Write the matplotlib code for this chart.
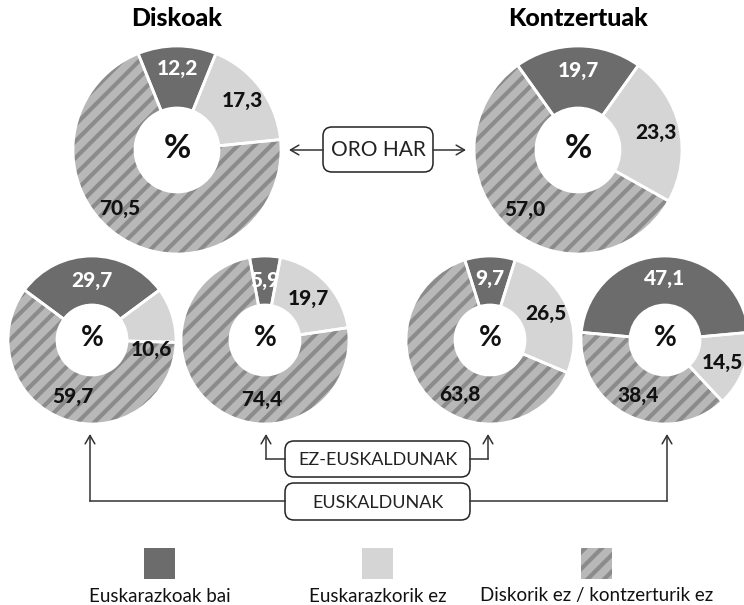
import numpy as np
import matplotlib
matplotlib.use('Agg')
from matplotlib import pyplot as plt
from matplotlib.patches import FancyBboxPatch, Rectangle

plt.rcParams['font.family'] = ['Lato', 'DejaVu Sans']
plt.rcParams['hatch.linewidth'] = 3.0

# data
titles = ['Diskoak', 'Kontzertuak']
categories = ['Euskarazkoak bai', 'Euskarazkorik ez', 'Diskorik ez / kontzerturik ez']
oro_har_diskoak = [12.2, 17.3, 70.5]
oro_har_kontzertuak = [19.7, 23.3, 57.0]
euskaldunak_diskoak = [29.7, 10.6, 59.7]
ez_euskaldunak_diskoak = [5.9, 19.7, 74.4]
ez_euskaldunak_kontzertuak = [9.7, 26.5, 63.8]
euskaldunak_kontzertuak = [47.1, 14.5, 38.4]
group_labels = ['ORO HAR', 'EZ-EUSKALDUNAK', 'EUSKALDUNAK']

DARK = '#6c6c6c'
LIGHT = '#d5d5d5'
HATCH_BG = '#b8b8b8'
HATCH_FG = '#8b8b8b'
LINE = '#333333'

W, H = 744, 605
fig = plt.figure(figsize=(W / 100, H / 100), dpi=100)
ax = fig.add_axes([0, 0, 1, 1])


def Y(y):
    # image pixel rows -> data y
    return H - y


def donut(vals, cx, cy, R, r, pct_size, lab_r, nudge):
    start = 90 + vals[0] * 3.6 / 2
    w, _ = ax.pie(vals, center=(cx, Y(cy)), radius=R, startangle=start,
                  counterclock=False, colors=[DARK, LIGHT, HATCH_BG],
                  wedgeprops=dict(width=R - r, linewidth=0, edgecolor=HATCH_FG))
    w[0].set_edgecolor(DARK)
    w[1].set_edgecolor(LIGHT)
    w[2].set_hatch('//')
    # white separators
    ax.pie(vals, center=(cx, Y(cy)), radius=R, startangle=start,
           counterclock=False, colors=['none'] * 3,
           wedgeprops=dict(width=R - r, linewidth=2, edgecolor='white'))
    cum = 0
    for i, v in enumerate(vals):
        mid = start - (cum + v / 2) * 3.6 + nudge[i]
        cum += v
        a = np.deg2rad(mid)
        ax.text(cx + lab_r * np.cos(a), Y(cy) + lab_r * np.sin(a),
                f'{v:.1f}'.replace('.', ','), ha='center', va='center',
                fontsize=15, fontweight='black',
                color='white' if i == 0 else '#111111')
    ax.text(cx, Y(cy) + 2, '%', ha='center', va='center',
            fontsize=pct_size, fontweight='bold', color='#111111')


donut(oro_har_diskoak, 177, 150, 104, 42, 24, 82, [0, 0, -13])
donut(oro_har_kontzertuak, 578, 150, 104, 42, 24, 80, [0, 0, 0])
donut(euskaldunak_diskoak, 92, 340, 84, 35, 20, 60, [0, -27, 0])
donut(ez_euskaldunak_diskoak, 265, 340, 84, 35, 20, 60, [0, 0, 32])
donut(ez_euskaldunak_kontzertuak, 490, 340, 84, 35, 20, 62, [0, 0, 19])
donut(euskaldunak_kontzertuak, 665, 340, 84, 35, 20, 62, [0, 0, 0])

ax.text(177, Y(19), titles[0], ha='center', va='center', fontsize=18, fontweight='black')
ax.text(578, Y(19), titles[1], ha='center', va='center', fontsize=18, fontweight='black')


def box(x0, x1, y0, y1, text, size):
    ax.add_patch(FancyBboxPatch((x0, Y(y1)), x1 - x0, y1 - y0,
                                boxstyle='round,pad=0,rounding_size=9',
                                facecolor='white', edgecolor='#222222', linewidth=1.1))
    ax.text((x0 + x1) / 2, Y((y0 + y1) / 2) - 1, text, ha='center', va='center',
            fontsize=size, color='#222222')


arrow = dict(arrowstyle='->,head_length=0.6,head_width=0.35', lw=1.1, color=LINE,
             shrinkA=0, shrinkB=0)

# ORO HAR
box(323, 433, 127, 172, group_labels[0], 15)
ax.annotate('', xy=(289, Y(150)), xytext=(323, Y(150)), arrowprops=arrow)
ax.annotate('', xy=(466, Y(150)), xytext=(433, Y(150)), arrowprops=arrow)

# EZ-EUSKALDUNAK
ax.plot([285, 266], [Y(459), Y(459)], color=LINE, lw=1.1)
ax.annotate('', xy=(266, Y(434)), xytext=(266, Y(459)), arrowprops=arrow)
ax.plot([470, 488], [Y(459), Y(459)], color=LINE, lw=1.1)
ax.annotate('', xy=(488, Y(434)), xytext=(488, Y(459)), arrowprops=arrow)
box(285, 470, 441, 477, group_labels[1], 13)

# EUSKALDUNAK
ax.plot([285, 90], [Y(501), Y(501)], color=LINE, lw=1.1)
ax.annotate('', xy=(90, Y(434)), xytext=(90, Y(501)), arrowprops=arrow)
ax.plot([470, 667], [Y(501), Y(501)], color=LINE, lw=1.1)
ax.annotate('', xy=(667, Y(434)), xytext=(667, Y(501)), arrowprops=arrow)
box(285, 470, 483, 520, group_labels[2], 13)

# legend
for cx, col, hatch, lab in zip([160, 378, 597], [DARK, LIGHT, HATCH_BG],
                               [None, None, '//'], categories):
    sq = Rectangle((cx - 16, Y(579)), 31, 31, facecolor=col, linewidth=0,
                   edgecolor=HATCH_FG if hatch else col, hatch=hatch)
    ax.add_patch(sq)
    ax.text(cx, Y(596), lab, ha='center', va='center', fontsize=13.5, color='#111111')

ax.set_xlim(0, W)
ax.set_ylim(0, H)
ax.set_aspect('auto')
ax.axis('off')
fig.savefig('out.png', dpi=100, facecolor='white')
